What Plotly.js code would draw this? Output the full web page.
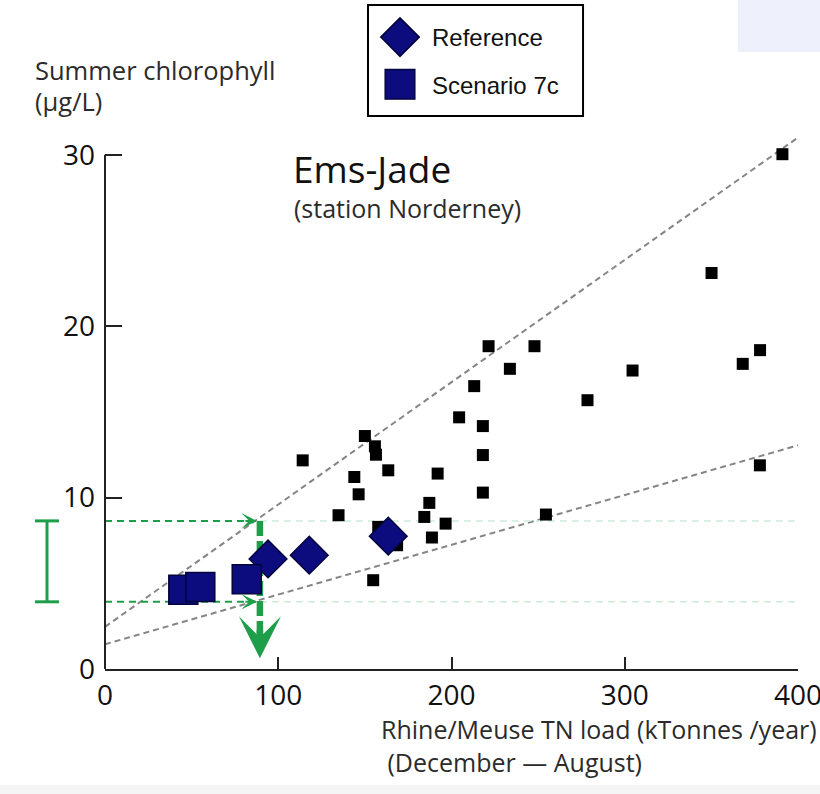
<!DOCTYPE html>
<html>
<head>
<meta charset="utf-8">
<script src="https://cdn.plot.ly/plotly-3.0.1.min.js"></script>
<style>
  html, body { margin: 0; padding: 0; background: #ffffff; }
  #chart { width: 820px; height: 794px; }
</style>
</head>
<body>
<div id="chart"></div>
<script>
// Observed years: Rhine/Meuse TN load (kTonnes/year, Dec–Aug) vs summer chlorophyll (µg/L)
const obsLoad = [114.1, 150.0, 155.8, 156.4, 163.5, 143.9, 146.4, 134.8, 192.0, 187.2,
                 184.3, 196.6, 188.7, 154.8, 157.7, 168.6, 221.4, 247.9, 233.7, 213.1,
                 204.4, 218.1, 218.1, 218.1, 254.5, 350.1, 378.1, 368.1, 304.5, 278.5,
                 378.0, 391.0];
const obsChl  = [12.17, 13.59, 12.99, 12.50, 11.59, 11.20, 10.19, 8.97, 11.40, 9.69,
                 8.87, 8.48, 7.67, 5.18, 8.29, 7.22, 18.83, 18.83, 17.51, 16.50,
                 14.68, 14.17, 12.48, 10.29, 9.01, 23.10, 18.60, 17.80, 17.41, 15.68,
                 11.88, 30.03];

// Model runs
const refLoad  = [94.1, 117.9, 163.5];
const refChl   = [6.42, 6.64, 7.75];
const scenLoad = [45.2, 55.0, 81.8];
const scenChl  = [4.62, 4.79, 5.24];

// Upper and lower envelope lines through the observations
const envLoad  = [0, 400];
const envUpper = [2.46, 31.0];
const envLower = [1.44, 13.05];

// Target load and the chlorophyll range it implies
const targetLoad = 89.4;
const chlRange   = [3.92, 8.64];

const xTicks = [0, 100, 200, 300, 400];
const yTicks = [0, 10, 20, 30];

const GREEN = '#1f9e4a';
const FAINT_GREEN = '#cdebd9';
const NAVY = '#0c0c7e';
const NAVY_EDGE = '#04043c';
const xMax = xTicks[xTicks.length - 1];

const traces = [
  // envelope lines
  { x: envLoad, y: envUpper, mode: 'lines', hoverinfo: 'skip', showlegend: false,
    line: { color: '#858585', width: 2, dash: '6px,4px' } },
  { x: envLoad, y: envLower, mode: 'lines', hoverinfo: 'skip', showlegend: false,
    line: { color: '#858585', width: 2, dash: '6px,4px' } },
  // faint continuation of the chlorophyll range across the plot
  { x: [targetLoad, xMax], y: [chlRange[1], chlRange[1]], mode: 'lines', hoverinfo: 'skip', showlegend: false,
    line: { color: FAINT_GREEN, width: 1.5, dash: '7px,5px' } },
  { x: [targetLoad, xMax], y: [chlRange[0], chlRange[0]], mode: 'lines', hoverinfo: 'skip', showlegend: false,
    line: { color: FAINT_GREEN, width: 1.5, dash: '7px,5px' } },
  // guide lines from the y axis to the target load
  { x: [0, targetLoad], y: [chlRange[1], chlRange[1]], mode: 'lines', hoverinfo: 'skip', showlegend: false,
    line: { color: GREEN, width: 2, dash: '7px,5px' } },
  { x: [0, targetLoad], y: [chlRange[0], chlRange[0]], mode: 'lines', hoverinfo: 'skip', showlegend: false,
    line: { color: GREEN, width: 2, dash: '7px,5px' } },
  // thick drop line down to the load axis
  { x: [targetLoad, targetLoad], y: [chlRange[1], 1.7], mode: 'lines', hoverinfo: 'skip', showlegend: false,
    line: { color: GREEN, width: 6.5, dash: '15px,5px' } },
  // observations
  { x: obsLoad, y: obsChl, mode: 'markers', showlegend: false, cliponaxis: false,
    marker: { symbol: 'square', size: 12, color: '#000000' } },
  // model runs
  { name: 'Reference', legendgroup: 'ref', x: refLoad, y: refChl, mode: 'markers', cliponaxis: false,
    marker: { symbol: 'diamond', size: 29, color: NAVY, line: { color: NAVY_EDGE, width: 1.5 } } },
  { name: 'Scenario 7c', legendgroup: 'scen', x: scenLoad, y: scenChl, mode: 'markers', cliponaxis: false,
    marker: { symbol: 'square', size: 29, color: NAVY, line: { color: NAVY_EDGE, width: 1.5 } } }
];

const axisFont = { family: 'Open Sans', size: 28, color: '#111111' };

const layout = {
  width: 820, height: 794,
  margin: { l: 105, r: 22, t: 129, b: 125, autoexpand: false },
  paper_bgcolor: '#ffffff', plot_bgcolor: '#ffffff',
  font: { family: 'Open Sans', color: '#111111' },
  showlegend: true,
  legend: {
    x: 0.3795, y: 1.2111, xanchor: 'left', yanchor: 'top',
    bgcolor: 'rgba(0,0,0,0)', borderwidth: 0,
    font: { family: 'Liberation Sans', size: 24, color: '#111111' },
    itemwidth: 54, tracegroupgap: 13, traceorder: 'grouped'
  },
  xaxis: {
    range: [0, xMax], tickvals: xTicks, ticktext: xTicks.map(String),
    ticks: 'inside', ticklen: 12, tickwidth: 2, tickcolor: '#222222',
    showline: true, linecolor: '#222222', linewidth: 2,
    showgrid: false, zeroline: false, tickfont: axisFont, ticklabelstandoff: 0,
    ticklabeloverflow: 'allow', fixedrange: true
  },
  yaxis: {
    range: [0, 31.5], tickvals: yTicks, ticktext: yTicks.map(String),
    ticks: 'inside', ticklen: 17, tickwidth: 2, tickcolor: '#222222',
    showline: false, showgrid: false, zeroline: false, tickfont: axisFont,
    ticklabelstandoff: 9, ticklabeloverflow: 'allow', fixedrange: true
  },
  shapes: [
    // y axis line, stopping at the top tick
    { type: 'line', xref: 'paper', yref: 'y', x0: 0, x1: 0, y0: 0, y1: yTicks[yTicks.length - 1],
      line: { color: '#222222', width: 2 } },
    // bracket showing the chlorophyll range
    { type: 'line', xref: 'paper', yref: 'y', x0: -0.0837, x1: -0.0837, y0: chlRange[0], y1: chlRange[1],
      line: { color: GREEN, width: 3 } },
    { type: 'line', xref: 'paper', yref: 'y', x0: -0.101, x1: -0.0664, y0: chlRange[1], y1: chlRange[1],
      line: { color: GREEN, width: 3 } },
    { type: 'line', xref: 'paper', yref: 'y', x0: -0.101, x1: -0.0664, y0: chlRange[0], y1: chlRange[0],
      line: { color: GREEN, width: 3 } },
    // legend frame
    { type: 'rect', xref: 'paper', yref: 'paper', x0: 0.3795, x1: 0.6898, y0: 1.0241, y1: 1.2296,
      fillcolor: '#ffffff', line: { color: '#000000', width: 2 }, layer: 'below' },
    // pale panel in the top right corner
    { type: 'rect', xref: 'paper', yref: 'paper', x0: 0.9134, x1: 1.04, y0: 1.1426, y1: 1.25,
      fillcolor: '#eef1fb', line: { width: 0 }, layer: 'below' },
    // pale strip along the bottom edge
    { type: 'rect', xref: 'paper', yref: 'paper', x0: -0.16, x1: 1.04, y0: -0.2148, y1: -0.24,
      fillcolor: '#f5f5f5', line: { width: 0 }, layer: 'below' }
  ],
  annotations: [
    { xref: 'paper', yref: 'paper', x: -0.1039, y: 1.1093, xanchor: 'left', yanchor: 'middle',
      showarrow: false, text: 'Summer chlorophyll',
      font: { family: 'Open Sans', size: 25.5, color: '#2b2b2b' } },
    { xref: 'paper', yref: 'paper', x: -0.1039, y: 1.0519, xanchor: 'left', yanchor: 'middle',
      showarrow: false, text: '(μg/L)',
      font: { family: 'Open Sans', size: 25.5, color: '#2b2b2b' } },
    { xref: 'paper', yref: 'paper', x: 0.3955, y: -0.1425, xanchor: 'left', yanchor: 'middle', align: 'left',
      showarrow: false, text: 'Rhine/Meuse TN load (kTonnes /year)<br>\u00a0(December — August)',
      font: { family: 'Open Sans', size: 25, color: '#2b2b2b' } },
    { xref: 'paper', yref: 'paper', x: 0.2685, y: 0.927, xanchor: 'left', yanchor: 'middle',
      showarrow: false, text: 'Ems-Jade',
      font: { family: 'Open Sans', size: 37, color: '#111111' } },
    { xref: 'paper', yref: 'paper', x: 0.2700, y: 0.853, xanchor: 'left', yanchor: 'middle',
      showarrow: false, text: '(station Norderney)',
      font: { family: 'Open Sans', size: 25, color: '#2b2b2b' } },
    // arrow heads on the guide lines
    { x: targetLoad, y: chlRange[1], xref: 'x', yref: 'y', text: '', showarrow: true,
      ax: -16, ay: 0, arrowhead: 3, arrowsize: 1.3, arrowwidth: 2, arrowcolor: GREEN, standoff: 3 },
    { x: targetLoad, y: chlRange[0], xref: 'x', yref: 'y', text: '', showarrow: true,
      ax: -16, ay: 0, arrowhead: 3, arrowsize: 1.3, arrowwidth: 2, arrowcolor: GREEN, standoff: 3 },
    { x: targetLoad, y: 0.62, xref: 'x', yref: 'y', text: '', showarrow: true,
      ax: 0, ay: -30, arrowhead: 3, arrowsize: 1.08, arrowwidth: 6.5, arrowcolor: GREEN }
  ]
};

Plotly.newPlot('chart', traces, layout, { displayModeBar: false, staticPlot: true }).then(function (gd) {
  // enlarge the legend symbols to the size of the plotted model markers
  gd.querySelectorAll('.legend .legendpoints path.scatterpts').forEach(function (p) {
    const t = p.getAttribute('transform') || '';
    p.setAttribute('transform', t + ' scale(1.85)');
    p.style.strokeWidth = '0.8px';
  });
});
</script>
</body>
</html>
